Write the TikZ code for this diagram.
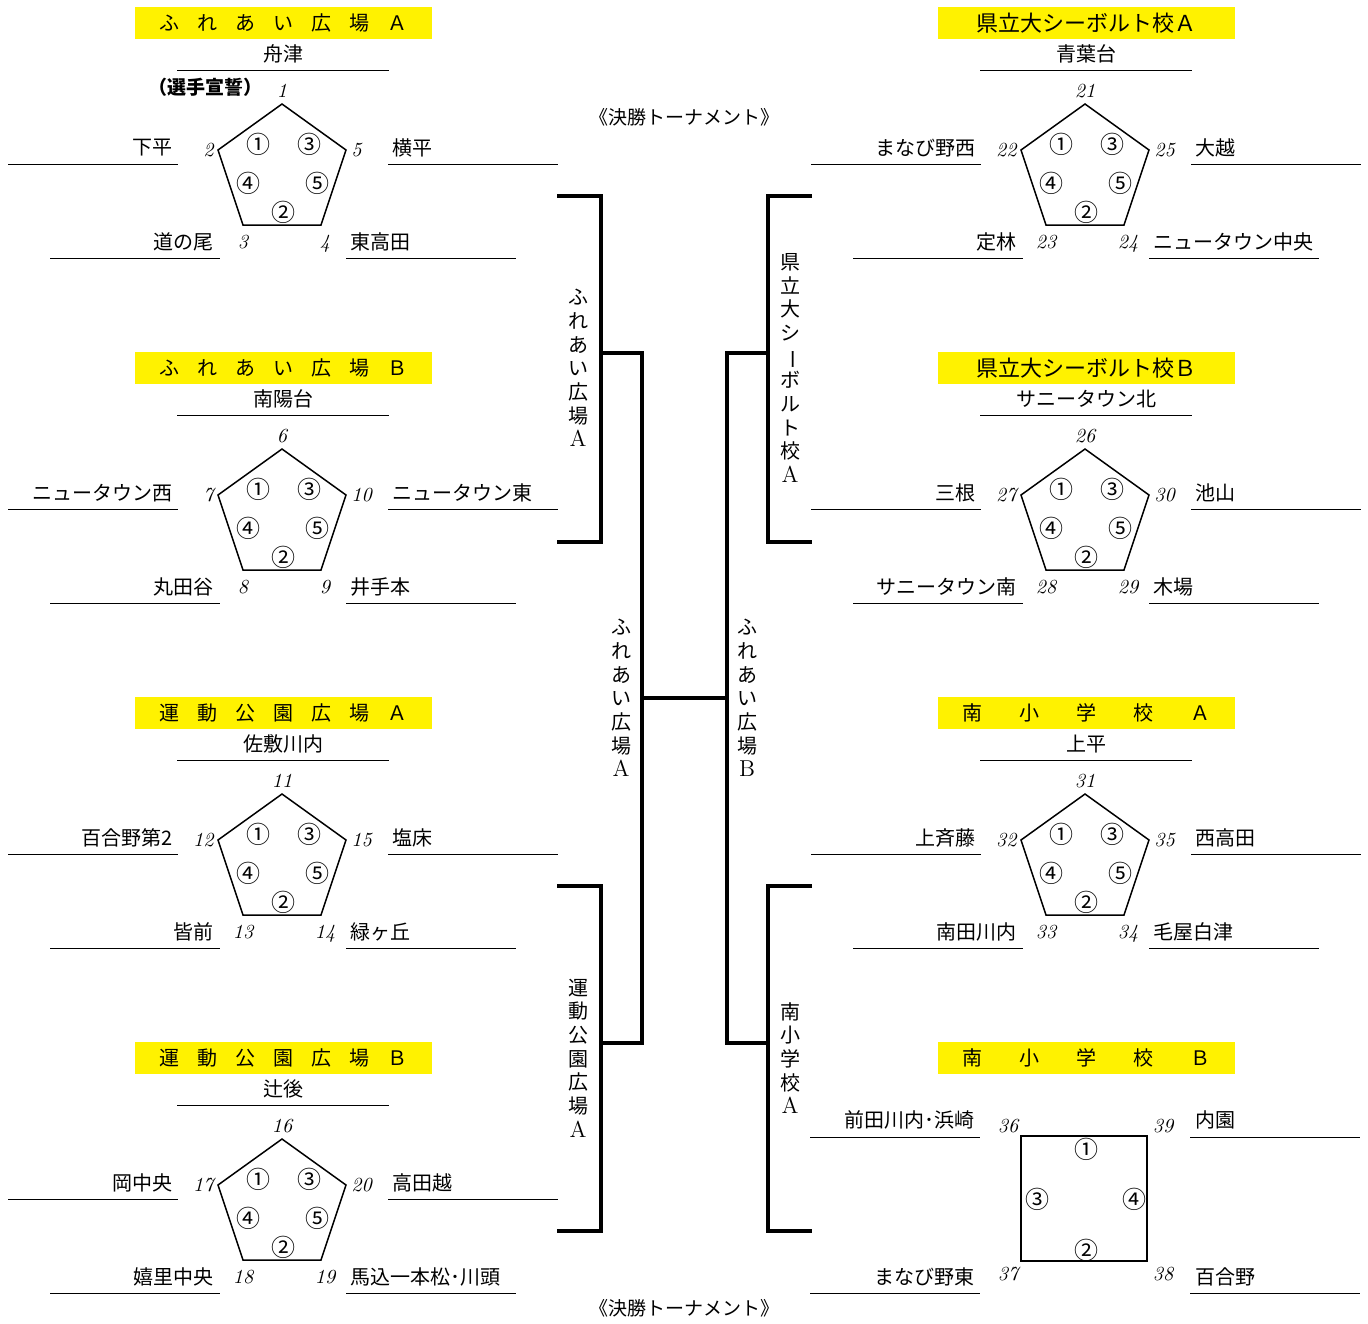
\documentclass[tikz,border=0pt]{standalone}
\usepackage{fontspec}
\newfontfamily\jp{Noto Sans CJK JP}
\usetikzlibrary{positioning}

% one league block: x, y, title, top team, first number, UL, UR, LL, LR
\newcommand{\pentblock}[9]{%
\begin{scope}[shift={(#1,#2)}]
  \pgfmathtruncatemacro{\numB}{#5+1}
  \pgfmathtruncatemacro{\numC}{#5+2}
  \pgfmathtruncatemacro{\numD}{#5+3}
  \pgfmathtruncatemacro{\numE}{#5+4}
  \node [titlebox] (title#5) at (283.5,23) {#3};
  \node [team] (top#5) at (283,54) {#4};
  \draw [rule] (177,70) -- (389,70);
  % court
  \coordinate (v#5-1) at (282,104);
  \coordinate (v#5-2) at (218,150);
  \coordinate (v#5-3) at (243,225);
  \coordinate (v#5-4) at (321,225);
  \coordinate (v#5-5) at (346,150);
  \draw [court] (v#5-1) -- (v#5-2) -- (v#5-3) -- (v#5-4) -- (v#5-5) -- cycle;
  \foreach \cx/\cy/\k/\lab in {258/144/1/①, 309/144/3/③, 248/183/4/④, 317/183/5/⑤, 283/212/2/②}
    \node [circ] (c#5-\k) at (\cx,\cy) {\lab};
  \node [num, above=2pt of v#5-1] (n#5-1) {#5};
  \node [num, left=1pt of v#5-2] (n#5-2) {\numB};
  \node [num, below=4pt of v#5-3] (n#5-3) {\numC};
  \node [num, below=4pt of v#5-4, xshift=2pt] (n#5-4) {\numD};
  \node [num, right=1.5pt of v#5-5] (n#5-5) {\numE};
  % teams
  \node [team, anchor=east] (ul#5) at (175,148) {#6};
  \draw [rule] (8,164) -- (178,164);
  \node [team, anchor=west] (ur#5) at (390,148) {#7};
  \draw [rule] (388,164) -- (558,164);
  \node [team, anchor=east] (ll#5) at (216,242) {#8};
  \draw [rule] (50,258) -- (220,258);
  \node [team, anchor=west] (lr#5) at (348,242) {#9};
  \draw [rule] (346,258) -- (516,258);
\end{scope}}

\newcommand{\gap}{\hspace{9pt}}
\newcommand{\wgap}{\hspace{18.5pt}}

\begin{document}
\begin{tikzpicture}[x=0.5pt, y=-0.5pt,
  titlebox/.style={fill=yellow, minimum width=148.5pt, minimum height=16pt, inner sep=0pt,
    font=\jp\fontsize{10}{12}\selectfont},
  team/.style={font=\jp\fontsize{10}{12}\selectfont, inner sep=1pt},
  num/.style={font=\fontsize{10}{12}\selectfont\itshape, inner sep=1pt},
  circ/.style={font=\jp\fontsize{12}{14}\selectfont, inner sep=0pt},
  court/.style={line width=0.75pt, line join=miter},
  rule/.style={line width=0.5pt},
  bracket/.style={line width=2pt},
  vlabel/.style={font=\jp\fontsize{10}{11.85}\selectfont, align=center, inner sep=0pt},
  head/.style={font=\jp\fontsize{9.5}{11}\selectfont, inner sep=0pt}]

\useasboundingbox (0,0) rectangle (1368,1323);

\pentblock{0}{0}{ふ\gap れ\gap あ\gap い\gap 広\gap 場\gap Ａ}{舟津}{1}{下平}{横平}{道の尾}{東高田}
\pentblock{0}{345}{ふ\gap れ\gap あ\gap い\gap 広\gap 場\gap Ｂ}{南陽台}{6}{ニュータウン西}{ニュータウン東}{丸田谷}{井手本}
\pentblock{0}{690}{運\gap 動\gap 公\gap 園\gap 広\gap 場\gap Ａ}{佐敷川内}{11}{百合野第2}{塩床}{皆前}{緑ヶ丘}
\pentblock{0}{1035}{運\gap 動\gap 公\gap 園\gap 広\gap 場\gap Ｂ}{辻後}{16}{岡中央}{高田越}{嬉里中央}{馬込一本松･川頭}
\pentblock{803}{0}{\fontsize{11}{13}\selectfont 県立大シーボルト校Ａ}{青葉台}{21}{まなび野西}{大越}{定林}{ニュータウン中央}
\pentblock{803}{345}{\fontsize{11}{13}\selectfont 県立大シーボルト校Ｂ}{サニータウン北}{26}{三根}{池山}{サニータウン南}{木場}
\pentblock{803}{690}{南\wgap 小\wgap 学\wgap 校\wgap Ａ}{上平}{31}{上斉藤}{西高田}{南田川内}{毛屋白津}

\node [font=\jp\bfseries\fontsize{9.5}{11}\selectfont, inner sep=0pt] (oath) at (205,87) {（選手宣誓）};

% square court
\begin{scope}[shift={(803,1035)}]
  \node [titlebox] (title36) at (283.5,23) {南\wgap 小\wgap 学\wgap 校\wgap Ｂ};
  \coordinate (s1) at (218,101);
  \coordinate (s2) at (344,101);
  \coordinate (s3) at (344,226);
  \coordinate (s4) at (218,226);
  \draw [line width=1pt] (s1) -- (s2) -- (s3) -- (s4) -- cycle;
  \node [circ] (sq-1) at (283,114) {①};
  \node [circ] (sq-3) at (234,164) {③};
  \node [circ] (sq-4) at (331,164) {④};
  \node [circ] (sq-2) at (283,215) {②};
  \node [num] (n36) at (205,91) {36};
  \node [num] (n39) at (360,91) {39};
  \node [num] (n37) at (205,239) {37};
  \node [num] (n38) at (360,239) {38};
  \node [team, anchor=east] (ul36) at (174,85) {前田川内･浜崎};
  \draw [rule] (7,102) -- (177,102);
  \node [team, anchor=west] (ur36) at (390,85) {内園};
  \draw [rule] (387,102) -- (557,102);
  \node [team, anchor=east] (ll36) at (174,242) {まなび野東};
  \draw [rule] (7,258) -- (177,258);
  \node [team, anchor=west] (lr36) at (390,242) {百合野};
  \draw [rule] (387,258) -- (557,258);
\end{scope}

% final tournament
\node [head] (final-top) at (684,117) {《決勝トーナメント》};
\node [head] (final-bot) at (684,1308) {《決勝トーナメント》};

\coordinate (l1a) at (557,196);
\coordinate (l1m) at (601,353);
\coordinate (l1b) at (557,542);
\coordinate (l2a) at (557,886);
\coordinate (l2m) at (601,1043);
\coordinate (l2b) at (557,1231);
\coordinate (sl) at (642,698);
\coordinate (r1a) at (812,196);
\coordinate (r1m) at (768,353);
\coordinate (r1b) at (812,542);
\coordinate (r2a) at (812,886);
\coordinate (r2m) at (768,1043);
\coordinate (r2b) at (812,1231);
\coordinate (sr) at (727,698);

\draw [bracket] (l1a) -| (l1m) |- (l1b);
\draw [bracket] (l2a) -| (l2m) |- (l2b);
\draw [bracket] (l1m) -| (sl) |- (l2m);
\draw [bracket] (r1a) -| (r1m) |- (r1b);
\draw [bracket] (r2a) -| (r2m) |- (r2b);
\draw [bracket] (r1m) -| (sr) |- (r2m);
\draw [bracket] (sl) -- (sr);

\node [vlabel] (lab-fa) at (578,368) {ふ\\れ\\あ\\い\\広\\場\\{\rmfamily\fontsize{11.5}{11.85}\selectfont A}};
\node [vlabel] (lab-ka) at (790,368) {県\\立\\大\\シ\\\rotatebox[origin=c]{-90}{ー}\\ボ\\ル\\ト\\校\\{\rmfamily\fontsize{11.5}{11.85}\selectfont A}};
\node [vlabel] (lab-sfa) at (621,698) {ふ\\れ\\あ\\い\\広\\場\\{\rmfamily\fontsize{11.5}{11.85}\selectfont A}};
\node [vlabel] (lab-sfb) at (747,698) {ふ\\れ\\あ\\い\\広\\場\\{\rmfamily\fontsize{11.5}{11.85}\selectfont B}};
\node [vlabel] (lab-ua) at (578,1058) {運\\動\\公\\園\\広\\場\\{\rmfamily\fontsize{11.5}{11.85}\selectfont A}};
\node [vlabel] (lab-ma) at (790,1058) {南\\小\\学\\校\\{\rmfamily\fontsize{11.5}{11.85}\selectfont A}};

\end{tikzpicture}
\end{document}
